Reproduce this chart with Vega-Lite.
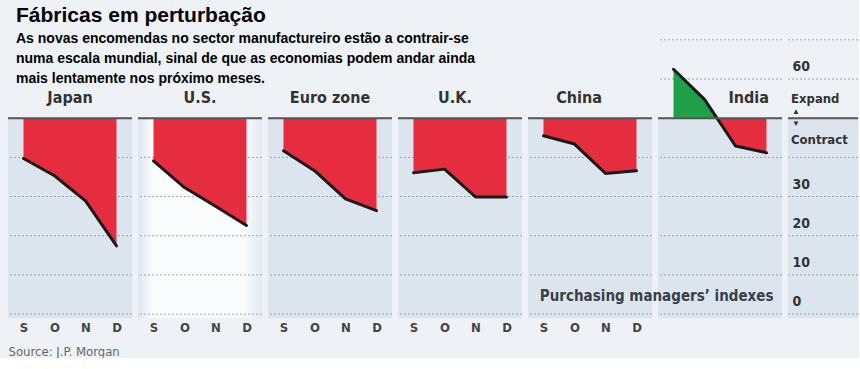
{
  "$schema": "https://vega.github.io/schema/vega-lite/v6.json",
  "background": "#eef2f7",
  "padding": {"left": 7, "top": 5, "right": 0, "bottom": 0},
  "spacing": 6,
  "bounds": "flush",
  "title": {
    "text": "Fábricas em perturbação",
    "subtitle": ["As novas encomendas no sector manufactureiro estão a contrair-se", "numa escala mundial, sinal de que as economias podem andar ainda", "mais lentamente nos próximo meses."],
    "anchor": "start", "frame": "group", "dx": 8, "offset": -54,
    "font": "Liberation Sans", "fontSize": 21, "fontWeight": "bold", "color": "#000",
    "subtitleFont": "Liberation Sans", "subtitleFontSize": 14, "subtitleFontWeight": "bold", "subtitleColor": "#000",
    "subtitleLineHeight": 20, "subtitlePadding": 6
  },
  "datasets": {
    "pmi": [
      {"country": "Japan", "month": "S", "value": 39.7},
      {"country": "Japan", "month": "O", "value": 35.3},
      {"country": "Japan", "month": "N", "value": 28.9},
      {"country": "Japan", "month": "D", "value": 17.4},
      {"country": "U.S.", "month": "S", "value": 39.1},
      {"country": "U.S.", "month": "O", "value": 32.3},
      {"country": "U.S.", "month": "N", "value": 27.5},
      {"country": "U.S.", "month": "D", "value": 22.6},
      {"country": "Euro zone", "month": "S", "value": 41.7},
      {"country": "Euro zone", "month": "O", "value": 36.6},
      {"country": "Euro zone", "month": "N", "value": 29.4},
      {"country": "Euro zone", "month": "D", "value": 26.4},
      {"country": "U.K.", "month": "S", "value": 36.1},
      {"country": "U.K.", "month": "O", "value": 37.0},
      {"country": "U.K.", "month": "N", "value": 29.9},
      {"country": "U.K.", "month": "D", "value": 29.9},
      {"country": "China", "month": "S", "value": 45.5},
      {"country": "China", "month": "O", "value": 43.4},
      {"country": "China", "month": "N", "value": 35.9},
      {"country": "China", "month": "D", "value": 36.6},
      {"country": "India", "month": "S", "value": 62.5},
      {"country": "India", "month": "O", "value": 54.8},
      {"country": "India", "month": "N", "value": 42.9},
      {"country": "India", "month": "D", "value": 41.2}
    ],
    "grid5": [{"g": 0}, {"g": 10}, {"g": 20}, {"g": 30}, {"g": 40}],
    "grid7": [{"g": 0}, {"g": 10}, {"g": 20}, {"g": 30}, {"g": 40}, {"g": 60}, {"g": 70}],
    "one": [{}]
  },
  "hconcat": [
    {
      "width": 124, "height": 286,
      "title": {"text": "Japan"},
      "layer": [
        {"data": {"name": "one"}, "mark": {"type": "rect", "color": "#dce5ee"},
         "encoding": {"y": {"datum": -1, "type": "quantitative", "scale": {"domain": [-1, 72], "nice": false, "zero": false}, "axis": null}, "y2": {"datum": 50}}},
        {"data": {"name": "grid5"}, "mark": {"type": "rule", "color": "#9aa4af", "strokeDash": [2, 2], "strokeWidth": 1},
         "encoding": {"y": {"field": "g", "type": "quantitative", "axis": null}}},
        {"data": {"name": "pmi"}, "transform": [{"filter": "datum.country === 'Japan'"}],
         "encoding": {
           "x": {"field": "month", "type": "ordinal", "scale": {"type": "point", "domain": ["S", "O", "N", "D"], "padding": 0.5},
                 "axis": {"title": "Source: J.P. Morgan", "titleAnchor": "start", "titleAlign": "left", "titleFont": "DejaVu Sans Condensed", "titleFontSize": 13, "titleFontWeight": "normal", "titleColor": "#666", "titlePadding": 11}},
           "y": {"field": "value", "type": "quantitative", "axis": null}},
         "layer": [
           {"mark": {"type": "area", "color": "#e62d40"}, "encoding": {"y2": {"datum": 50}}},
           {"mark": {"type": "line", "color": "#1a1a1a", "strokeWidth": 3, "strokeJoin": "round", "strokeCap": "round"}}
         ]},
        {"data": {"name": "one"}, "mark": {"type": "rule", "color": "#555", "strokeWidth": 2}, "encoding": {"y": {"datum": 50, "axis": null}}}
      ]
    },
    {
      "width": 124, "height": 286,
      "title": {"text": "U.S."},
      "layer": [
        {"data": {"name": "one"}, "mark": {"type": "rect", "color": {"gradient": "linear", "x1": 0, "y1": 0, "x2": 1, "y2": 0, "stops": [{"offset": 0, "color": "#dde6ef"}, {"offset": 0.12, "color": "#fbfcfd"}, {"offset": 0.85, "color": "#fbfcfd"}, {"offset": 1, "color": "#e3eaf2"}]}},
         "encoding": {"y": {"datum": -1, "type": "quantitative", "scale": {"domain": [-1, 72], "nice": false, "zero": false}, "axis": null}, "y2": {"datum": 50}}},
        {"data": {"name": "grid5"}, "mark": {"type": "rule", "color": "#9aa4af", "strokeDash": [2, 2], "strokeWidth": 1},
         "encoding": {"y": {"field": "g", "type": "quantitative", "axis": null}}},
        {"data": {"name": "pmi"}, "transform": [{"filter": "datum.country === 'U.S.'"}],
         "encoding": {
           "x": {"field": "month", "type": "ordinal", "scale": {"type": "point", "domain": ["S", "O", "N", "D"], "padding": 0.5}, "axis": {"title": null}},
           "y": {"field": "value", "type": "quantitative", "axis": null}},
         "layer": [
           {"mark": {"type": "area", "color": "#e62d40"}, "encoding": {"y2": {"datum": 50}}},
           {"mark": {"type": "line", "color": "#1a1a1a", "strokeWidth": 3, "strokeJoin": "round", "strokeCap": "round"}}
         ]},
        {"data": {"name": "one"}, "mark": {"type": "rule", "color": "#555", "strokeWidth": 2}, "encoding": {"y": {"datum": 50, "axis": null}}}
      ]
    },
    {
      "width": 124, "height": 286,
      "title": {"text": "Euro zone"},
      "layer": [
        {"data": {"name": "one"}, "mark": {"type": "rect", "color": "#dce5ee"},
         "encoding": {"y": {"datum": -1, "type": "quantitative", "scale": {"domain": [-1, 72], "nice": false, "zero": false}, "axis": null}, "y2": {"datum": 50}}},
        {"data": {"name": "grid5"}, "mark": {"type": "rule", "color": "#9aa4af", "strokeDash": [2, 2], "strokeWidth": 1},
         "encoding": {"y": {"field": "g", "type": "quantitative", "axis": null}}},
        {"data": {"name": "pmi"}, "transform": [{"filter": "datum.country === 'Euro zone'"}],
         "encoding": {
           "x": {"field": "month", "type": "ordinal", "scale": {"type": "point", "domain": ["S", "O", "N", "D"], "padding": 0.5}, "axis": {"title": null}},
           "y": {"field": "value", "type": "quantitative", "axis": null}},
         "layer": [
           {"mark": {"type": "area", "color": "#e62d40"}, "encoding": {"y2": {"datum": 50}}},
           {"mark": {"type": "line", "color": "#1a1a1a", "strokeWidth": 3, "strokeJoin": "round", "strokeCap": "round"}}
         ]},
        {"data": {"name": "one"}, "mark": {"type": "rule", "color": "#555", "strokeWidth": 2}, "encoding": {"y": {"datum": 50, "axis": null}}}
      ]
    },
    {
      "width": 124, "height": 286,
      "title": {"text": "U.K.", "dx": -5},
      "layer": [
        {"data": {"name": "one"}, "mark": {"type": "rect", "color": "#dce5ee"},
         "encoding": {"y": {"datum": -1, "type": "quantitative", "scale": {"domain": [-1, 72], "nice": false, "zero": false}, "axis": null}, "y2": {"datum": 50}}},
        {"data": {"name": "grid5"}, "mark": {"type": "rule", "color": "#9aa4af", "strokeDash": [2, 2], "strokeWidth": 1},
         "encoding": {"y": {"field": "g", "type": "quantitative", "axis": null}}},
        {"data": {"name": "pmi"}, "transform": [{"filter": "datum.country === 'U.K.'"}],
         "encoding": {
           "x": {"field": "month", "type": "ordinal", "scale": {"type": "point", "domain": ["S", "O", "N", "D"], "padding": 0.5}, "axis": {"title": null}},
           "y": {"field": "value", "type": "quantitative", "axis": null}},
         "layer": [
           {"mark": {"type": "area", "color": "#e62d40"}, "encoding": {"y2": {"datum": 50}}},
           {"mark": {"type": "line", "color": "#1a1a1a", "strokeWidth": 3, "strokeJoin": "round", "strokeCap": "round"}}
         ]},
        {"data": {"name": "one"}, "mark": {"type": "rule", "color": "#555", "strokeWidth": 2}, "encoding": {"y": {"datum": 50, "axis": null}}}
      ]
    },
    {
      "width": 124, "height": 286,
      "title": {"text": "China", "dx": -11},
      "layer": [
        {"data": {"name": "one"}, "mark": {"type": "rect", "color": "#dce5ee"},
         "encoding": {"y": {"datum": -1, "type": "quantitative", "scale": {"domain": [-1, 72], "nice": false, "zero": false}, "axis": null}, "y2": {"datum": 50}}},
        {"data": {"name": "grid5"}, "mark": {"type": "rule", "color": "#9aa4af", "strokeDash": [2, 2], "strokeWidth": 1},
         "encoding": {"y": {"field": "g", "type": "quantitative", "axis": null}}},
        {"data": {"name": "pmi"}, "transform": [{"filter": "datum.country === 'China'"}],
         "encoding": {
           "x": {"field": "month", "type": "ordinal", "scale": {"type": "point", "domain": ["S", "O", "N", "D"], "padding": 0.5}, "axis": {"title": null}},
           "y": {"field": "value", "type": "quantitative", "axis": null}},
         "layer": [
           {"mark": {"type": "area", "color": "#e62d40"}, "encoding": {"y2": {"datum": 50}}},
           {"mark": {"type": "line", "color": "#1a1a1a", "strokeWidth": 3, "strokeJoin": "round", "strokeCap": "round"}}
         ]},
        {"data": {"name": "one"}, "mark": {"type": "rule", "color": "#555", "strokeWidth": 2}, "encoding": {"y": {"datum": 50, "axis": null}}}
      ]
    },
    {
      "width": 124, "height": 286,
      "title": {"text": "India", "anchor": "end", "dx": -14},
      "layer": [
        {"data": {"name": "one"}, "mark": {"type": "rect", "color": "#dce5ee"},
         "encoding": {"y": {"datum": -1, "type": "quantitative", "scale": {"domain": [-1, 72], "nice": false, "zero": false}, "axis": null}, "y2": {"datum": 50}}},
        {"data": {"name": "grid7"}, "mark": {"type": "rule", "color": "#9aa4af", "strokeDash": [2, 2], "strokeWidth": 1},
         "encoding": {"y": {"field": "g", "type": "quantitative", "axis": null}}},
        {"data": {"name": "pmi"}, "transform": [{"filter": "datum.country === 'India'"}],
         "encoding": {
           "x": {"field": "month", "type": "ordinal", "scale": {"type": "point", "domain": ["S", "O", "N", "D"], "padding": 0.5}, "axis": {"title": null}},
           "y": {"field": "value", "type": "quantitative", "axis": null}},
         "layer": [
           {"mark": {"type": "area", "color": {"gradient": "linear", "x1": 0, "y1": 0, "x2": 0, "y2": 1, "stops": [{"offset": 0, "color": "#20a048"}, {"offset": 0.587, "color": "#20a048"}, {"offset": 0.587, "color": "#e62d40"}, {"offset": 1, "color": "#e62d40"}]}}, "encoding": {"y2": {"datum": 50}}},
           {"mark": {"type": "line", "color": "#1a1a1a", "strokeWidth": 3, "strokeJoin": "round", "strokeCap": "round"}}
         ]},
        {"data": {"name": "one"}, "mark": {"type": "rule", "color": "#555", "strokeWidth": 2}, "encoding": {"y": {"datum": 50, "axis": null}}},
        {"data": {"values": [{"t": "Purchasing managers’ indexes"}]},
         "mark": {"type": "text", "align": "right", "baseline": "middle", "dx": 7, "font": "DejaVu Sans Condensed", "fontSize": 15, "fontWeight": "bold", "color": "#3a3f45"},
         "encoding": {"x": {"datum": "D", "type": "ordinal", "axis": null}, "y": {"datum": 4.7, "axis": null}, "text": {"field": "t"}}}
      ]
    },
    {
      "width": 70, "height": 286,
      "layer": [
        {"data": {"name": "one"}, "mark": {"type": "rect", "color": "#dce5ee"},
         "encoding": {"y": {"datum": -1, "type": "quantitative", "scale": {"domain": [-1, 72], "nice": false, "zero": false},
           "axis": {"values": [0, 10, 20, 30, 60], "labels": true, "ticks": false, "tickSize": 0, "domain": false, "grid": false, "title": null, "orient": "left", "labelAlign": "left", "labelPadding": -4, "labelBaseline": "middle", "labelOffset": -12.5, "labelFont": "DejaVu Sans Condensed", "labelFontSize": 14, "labelFontWeight": "bold", "labelColor": "#333", "zindex": 1}}, "y2": {"datum": 50}}},
        {"data": {"name": "grid7"}, "mark": {"type": "rule", "color": "#9aa4af", "strokeDash": [2, 2], "strokeWidth": 1},
         "encoding": {"y": {"field": "g", "type": "quantitative",
           "axis": {"values": [0, 10, 20, 30, 60], "labels": true, "ticks": false, "tickSize": 0, "domain": false, "grid": false, "title": null, "orient": "left", "labelAlign": "left", "labelPadding": -4, "labelBaseline": "middle", "labelOffset": -12.5, "labelFont": "DejaVu Sans Condensed", "labelFontSize": 14, "labelFontWeight": "bold", "labelColor": "#333", "zindex": 1}}}},
        {"data": {"name": "one"}, "mark": {"type": "rule", "color": "#555", "strokeWidth": 2}, "encoding": {"y": {"datum": 50}}},
        {"data": {"name": "one"}, "mark": {"type": "text", "text": "Expand", "align": "left", "baseline": "middle", "font": "DejaVu Sans Condensed", "fontSize": 13, "fontWeight": "bold", "color": "#333"},
         "encoding": {"x": {"datum": 3, "type": "quantitative", "scale": {"domain": [0, 70], "nice": false, "zero": false}, "axis": null}, "y": {"datum": 54.9}}},
        {"data": {"name": "one"}, "mark": {"type": "text", "text": "▲", "align": "center", "baseline": "middle", "fontSize": 8, "color": "#333"},
         "encoding": {"x": {"datum": 8, "type": "quantitative", "axis": null}, "y": {"datum": 51.6}}},
        {"data": {"name": "one"}, "mark": {"type": "text", "text": "▼", "align": "center", "baseline": "middle", "fontSize": 8, "color": "#333"},
         "encoding": {"x": {"datum": 8, "type": "quantitative", "axis": null}, "y": {"datum": 48.4}}},
        {"data": {"name": "one"}, "mark": {"type": "text", "text": "Contract", "align": "left", "baseline": "middle", "font": "DejaVu Sans Condensed", "fontSize": 13, "fontWeight": "bold", "color": "#333"},
         "encoding": {"x": {"datum": 3, "type": "quantitative", "axis": null}, "y": {"datum": 44.4}}}
      ]
    }
  ],
  "config": {
    "view": {"stroke": null},
    "title": {"font": "DejaVu Sans Condensed", "fontSize": 16, "fontWeight": "bold", "color": "#333", "offset": -74, "anchor": "middle"},
    "axisX": {"grid": false, "domain": false, "ticks": false, "labelAngle": 0, "labelFont": "DejaVu Sans Condensed", "labelFontWeight": "bold", "labelFontSize": 13, "labelColor": "#444", "labelPadding": 3}
  }
}
